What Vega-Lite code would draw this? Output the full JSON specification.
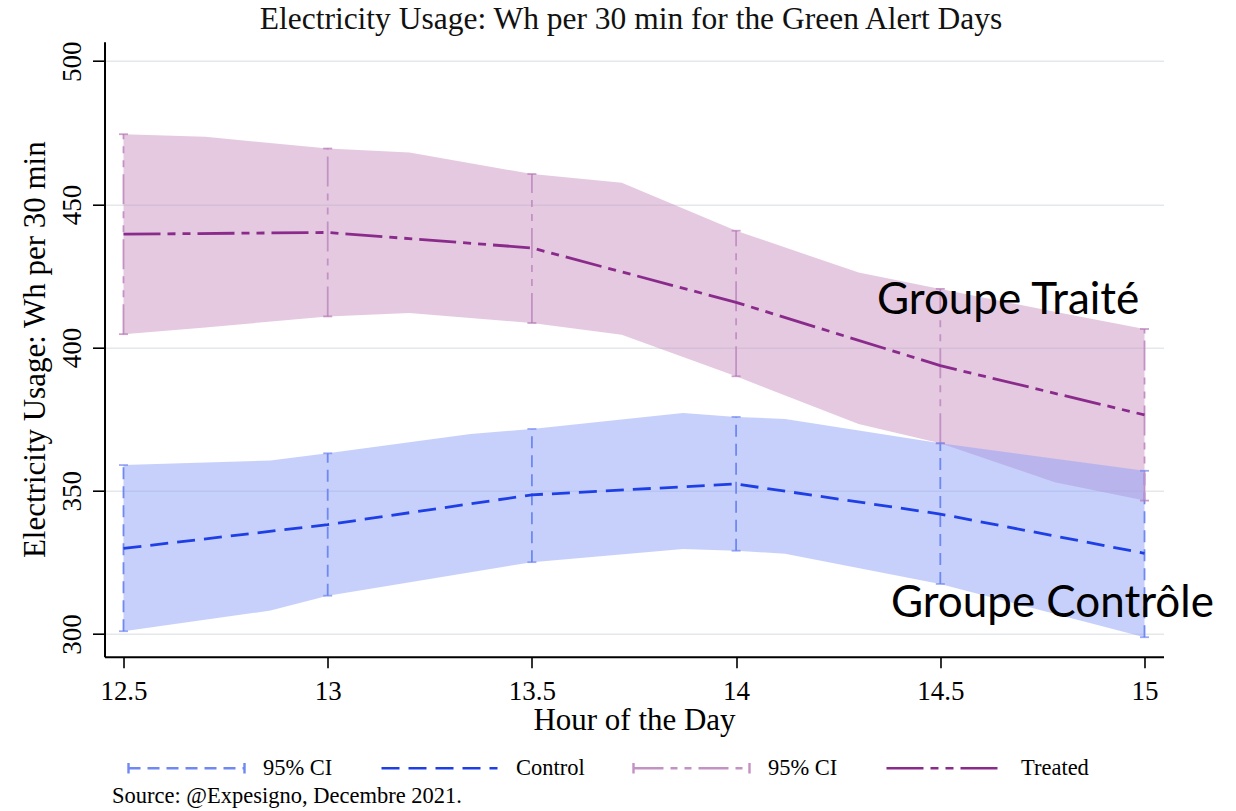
{
  "$schema": "https://vega.github.io/schema/vega-lite/v6.json",
  "width": 1059,
  "height": 615,
  "autosize": "none",
  "padding": {"left": 104.5, "top": 41.7, "right": 72, "bottom": 154},
  "background": "white",
  "config": {"view": {"stroke": null}, "font": "Liberation Serif"},
  "title": {
    "text": "Electricity Usage: Wh per 30 min for the Green Alert Days",
    "font": "Liberation Serif",
    "fontSize": 31.5,
    "fontWeight": "normal",
    "color": "#111111",
    "anchor": "middle",
    "frame": "group",
    "baseline": "alphabetic",
    "offset": 11,
    "dy": 31,
    "dx": -3
  },
  "datasets": {
    "band": [
      {"group": "Treated", "hour": 12.5, "lo": 404.7, "hi": 474.5},
      {"group": "Treated", "hour": 12.7, "lo": 407.0, "hi": 473.6},
      {"group": "Treated", "hour": 13.0, "lo": 410.9, "hi": 469.5},
      {"group": "Treated", "hour": 13.2, "lo": 412.1, "hi": 468.1},
      {"group": "Treated", "hour": 13.5, "lo": 408.6, "hi": 460.6},
      {"group": "Treated", "hour": 13.72, "lo": 404.5, "hi": 457.6},
      {"group": "Treated", "hour": 14.0, "lo": 390.0, "hi": 440.8},
      {"group": "Treated", "hour": 14.3, "lo": 373.3, "hi": 426.2},
      {"group": "Treated", "hour": 14.5, "lo": 366.6, "hi": 420.5},
      {"group": "Treated", "hour": 14.78, "lo": 353.0, "hi": 412.5},
      {"group": "Treated", "hour": 15.0, "lo": 346.6, "hi": 406.5},
      {"group": "Control", "hour": 12.5, "lo": 301.0, "hi": 359.0},
      {"group": "Control", "hour": 12.86, "lo": 308.2, "hi": 360.6},
      {"group": "Control", "hour": 13.0, "lo": 313.4, "hi": 363.1},
      {"group": "Control", "hour": 13.35, "lo": 321.6, "hi": 369.8},
      {"group": "Control", "hour": 13.5, "lo": 325.1, "hi": 371.6},
      {"group": "Control", "hour": 13.87, "lo": 329.7, "hi": 377.2},
      {"group": "Control", "hour": 14.0, "lo": 329.1, "hi": 375.8},
      {"group": "Control", "hour": 14.12, "lo": 328.0, "hi": 375.1},
      {"group": "Control", "hour": 14.5, "lo": 317.5, "hi": 366.6},
      {"group": "Control", "hour": 15.0, "lo": 298.9, "hi": 357.0}
    ],
    "est": [
      {"line": "Control", "ci": "CI_c", "hour": 12.5, "mean": 329.9, "lo": 301.0, "hi": 359.0},
      {"line": "Control", "ci": "CI_c", "hour": 13.0, "mean": 338.2, "lo": 313.4, "hi": 363.1},
      {"line": "Control", "ci": "CI_c", "hour": 13.5, "mean": 348.6, "lo": 325.1, "hi": 371.6},
      {"line": "Control", "ci": "CI_c", "hour": 14.0, "mean": 352.4, "lo": 329.1, "hi": 375.8},
      {"line": "Control", "ci": "CI_c", "hour": 14.5, "mean": 341.9, "lo": 317.5, "hi": 366.6},
      {"line": "Control", "ci": "CI_c", "hour": 15.0, "mean": 328.2, "lo": 298.9, "hi": 357.0},
      {"line": "Treated", "ci": "CI_t", "hour": 12.5, "mean": 439.6, "lo": 404.7, "hi": 474.5},
      {"line": "Treated", "ci": "CI_t", "hour": 13.0, "mean": 440.2, "lo": 410.9, "hi": 469.5},
      {"line": "Treated", "ci": "CI_t", "hour": 13.5, "mean": 434.8, "lo": 408.6, "hi": 460.6},
      {"line": "Treated", "ci": "CI_t", "hour": 14.0, "mean": 415.8, "lo": 390.0, "hi": 440.8},
      {"line": "Treated", "ci": "CI_t", "hour": 14.5, "mean": 393.7, "lo": 366.6, "hi": 420.5},
      {"line": "Treated", "ci": "CI_t", "hour": 15.0, "mean": 376.5, "lo": 346.6, "hi": 406.5}
    ]
  },
  "layer": [
    {
      "data": {"name": "band"},
      "mark": {"type": "area", "opacity": 0.5},
      "encoding": {
        "x": {
          "field": "hour", "type": "quantitative",
          "scale": {"domain": [12.4535, 15.0465], "nice": false, "zero": false},
          "axis": {
            "title": "Hour of the Day",
            "values": [12.5, 13, 13.5, 14, 14.5, 15],
            "format": "~g",
            "grid": false,
            "domainColor": "#000000", "domainWidth": 2,
            "tickColor": "#000000", "tickWidth": 1.6, "tickSize": 11,
            "labelFont": "Liberation Serif", "labelFontSize": 27, "labelColor": "#000000",
            "labelPadding": 11, "labelFlush": false, "labelOverlap": false,
            "titleFont": "Liberation Serif", "titleFontSize": 31, "titleFontWeight": "normal",
            "titleColor": "#000000", "titlePadding": 1
          }
        },
        "y": {
          "field": "lo", "type": "quantitative",
          "scale": {"domain": [292.1, 506.8], "nice": false, "zero": false},
          "axis": {
            "title": "Electricity Usage: Wh per 30 min",
            "values": [300, 350, 400, 450, 500],
            "grid": true, "gridColor": "#e4e8ea", "gridWidth": 1.5,
            "domainColor": "#000000", "domainWidth": 2,
            "tickColor": "#000000", "tickWidth": 1.6, "tickSize": 12,
            "labelAngle": 270, "labelAlign": "center", "labelBaseline": "alphabetic",
            "labelPadding": 12,
            "labelFont": "Liberation Serif", "labelFontSize": 27, "labelColor": "#000000",
            "labelFlush": false, "labelOverlap": false,
            "titleFont": "Liberation Serif", "titleFontSize": 31, "titleFontWeight": "normal",
            "titleColor": "#000000", "titlePadding": 7
          }
        },
        "y2": {"field": "hi"},
        "fill": {
          "field": "group", "type": "nominal",
          "scale": {"domain": ["Control", "Treated"], "range": ["#8da2f7", "#c993c3"]},
          "legend": null
        }
      }
    },
    {
      "data": {"name": "est"},
      "mark": {"type": "rule", "strokeWidth": 1.8},
      "encoding": {
        "x": {"field": "hour", "type": "quantitative"},
        "y": {"field": "lo", "type": "quantitative"},
        "y2": {"field": "hi"},
        "stroke": {"field": "ci", "type": "nominal"},
        "strokeDash": {"field": "ci", "type": "nominal"}
      }
    },
    {
      "data": {"name": "est"},
      "mark": {"type": "tick", "orient": "horizontal", "size": 9, "thickness": 1.8},
      "encoding": {
        "x": {"field": "hour", "type": "quantitative"},
        "y": {"field": "lo", "type": "quantitative"},
        "color": {
          "field": "ci", "type": "nominal",
          "scale": {"domain": ["CI_c", "CI_t"], "range": ["#7088f2", "#b677b5"]},
          "legend": null
        }
      }
    },
    {
      "data": {"name": "est"},
      "mark": {"type": "tick", "orient": "horizontal", "size": 9, "thickness": 1.8},
      "encoding": {
        "x": {"field": "hour", "type": "quantitative"},
        "y": {"field": "hi", "type": "quantitative"},
        "color": {"field": "ci", "type": "nominal", "legend": null}
      }
    },
    {
      "data": {"name": "est"},
      "mark": {"type": "line", "strokeWidth": 2.8},
      "encoding": {
        "x": {"field": "hour", "type": "quantitative"},
        "y": {"field": "mean", "type": "quantitative"},
        "stroke": {
          "field": "line", "type": "nominal",
          "scale": {
            "domain": ["CI_c", "Control", "CI_t", "Treated"],
            "range": ["#7088f2", "#1f3fe6", "#c491c4", "#8a2b8c"]
          },
          "legend": {
            "orient": "none",
            "legendX": 22.5,
            "legendY": 667,
            "direction": "horizontal",
            "columns": 4,
            "title": null,
            "padding": 0,
            "symbolType": "stroke",
            "symbolSize": 13456,
            "symbolStrokeWidth": 2.4,
            "labelFont": "Liberation Serif",
            "labelFontSize": 22.5,
            "labelColor": "#000000",
            "labelOffset": 17,
            "columnPadding": 43,
            "labelExpr": "datum.value == 'CI_c' || datum.value == 'CI_t' ? '95% CI' : datum.value",
            "encode": {
              "symbols": {
                "update": {
                  "shape": {"signal": "datum.value == 'CI_c' || datum.value == 'CI_t' ? 'M-1,0H1M-1,-0.09V0.09M1,-0.09V0.09' : 'stroke'"}
                }
              }
            }
          }
        },
        "strokeDash": {
          "field": "line", "type": "nominal",
          "scale": {
            "domain": ["CI_c", "Control", "CI_t", "Treated"],
            "range": [[12, 7], [18, 9], [30, 7, 7, 7, 7, 7], [37, 7, 8, 7, 8, 7]]
          }
        }
      }
    },
    {
      "data": {"values": [{"label": "Groupe Traité"}]},
      "mark": {"type": "text", "font": "Lato", "fontSize": 44, "align": "left", "baseline": "alphabetic", "color": "#000000"},
      "encoding": {
        "x": {"datum": 14.345},
        "y": {"datum": 411.8},
        "text": {"field": "label"}
      }
    },
    {
      "data": {"values": [{"label": "Groupe Contrôle"}]},
      "mark": {"type": "text", "font": "Lato", "fontSize": 44, "align": "left", "baseline": "alphabetic", "color": "#000000"},
      "encoding": {
        "x": {"datum": 14.379},
        "y": {"datum": 305.8},
        "text": {"field": "label"}
      }
    },
    {
      "data": {"values": [{"label": "Source: @Expesigno, Decembre 2021."}]},
      "mark": {"type": "text", "font": "Liberation Serif", "fontSize": 22.5, "align": "left", "baseline": "alphabetic", "color": "#000000"},
      "encoding": {
        "x": {"datum": 12.472},
        "y": {"datum": 240.9},
        "text": {"field": "label"}
      }
    }
  ]
}
